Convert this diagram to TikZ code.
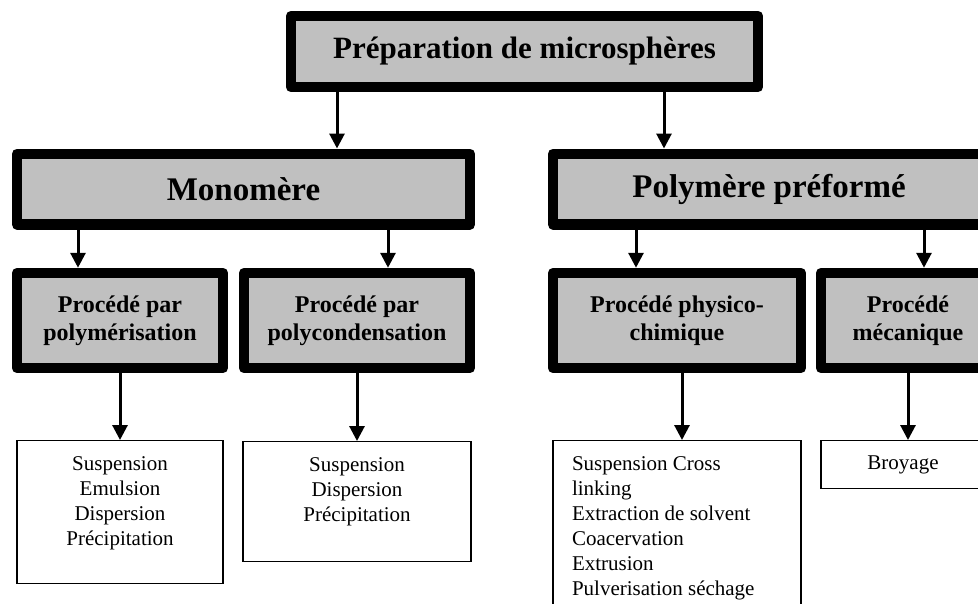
\documentclass[tikz,border=0pt]{standalone}
\usepackage{fontspec}
\setmainfont{Liberation Serif}
\usetikzlibrary{positioning, arrows.meta}
\definecolor{boxgray}{HTML}{C0C0C0}

\begin{document}
\begin{tikzpicture}[x = 1pt, y = -1pt,
    thickbox/.style = {rectangle, draw, fill = boxgray, line width = 10.5pt, line join = round, inner sep = 0pt, align = center},
    listbox/.style = {rectangle, draw, line width = 1.3pt, inner sep = 0pt, font = \fontsize{21}{25}\selectfont},
    arr/.style = {-{Triangle[width = 15pt, length = 15pt]}, line width = 3pt}]

\useasboundingbox (0, 0) rectangle (978, 603);
\clip (0, 0) rectangle (978, 603);

\node[thickbox, minimum width = 467, minimum height = 71, font = \bfseries\fontsize{31}{36}\selectfont] (prep) at (524.5, 51.5) {Préparation de microsphères};

\node[thickbox, minimum width = 453, minimum height = 70.5, font = \bfseries\fontsize{33}{38}\selectfont] (mono) at (243.5, 189) {Monomère};
\node[thickbox, minimum width = 432, minimum height = 70.5, font = \bfseries\fontsize{33}{38}\selectfont] (poly) at (769, 189) {Polymère préformé};
    \draw [arr] ([xshift = 93.5pt]mono.north |- prep.south) -- ([xshift = 93.5pt]mono.north);
    \draw [arr] ([xshift = -105pt]poly.north |- prep.south) -- ([xshift = -105pt]poly.north);

\node[thickbox, minimum width = 206, minimum height = 95, font = \bfseries\fontsize{24}{28}\selectfont] (polym) at (120, 320.5) {Procédé par\\polymérisation};
\node[thickbox, minimum width = 226, minimum height = 95, font = \bfseries\fontsize{24}{28}\selectfont] (polyc) at (357, 320.5) {Procédé par\\polycondensation};
\node[thickbox, minimum width = 248, minimum height = 95, font = \bfseries\fontsize{24}{28}\selectfont] (physico) at (677, 320.5) {Procédé physico-\\chimique};
\node[thickbox, minimum width = 174, minimum height = 95, font = \bfseries\fontsize{24}{28}\selectfont] (meca) at (908, 320.5) {Procédé\\mécanique};
    \draw [arr] ([xshift = -42pt]polym.north |- mono.south) -- ([xshift = -42pt]polym.north);
    \draw [arr] ([xshift = 31pt]polyc.north |- mono.south) -- ([xshift = 31pt]polyc.north);
    \draw [arr] ([xshift = -41pt]physico.north |- poly.south) -- ([xshift = -41pt]physico.north);
    \draw [arr] ([xshift = 16pt]meca.north |- poly.south) -- ([xshift = 16pt]meca.north);

\node[listbox, anchor = north] (lst1) at (120, 440) {\begin{minipage}[t][143pt][t]{206pt}\centering\rule{0pt}{30pt}Suspension\\Emulsion\\Dispersion\\Précipitation\end{minipage}};
\node[listbox, anchor = north] (lst2) at (357, 441) {\begin{minipage}[t][120pt][t]{228pt}\centering\rule{0pt}{30pt}Suspension\\Dispersion\\Précipitation\end{minipage}};
\node[listbox, anchor = north] (lst3) at (677, 440) {\begin{minipage}[t][185pt][t]{248pt}\raggedright\leftskip = 19pt\rule{0pt}{30pt}Suspension Cross\\linking\\Extraction de solvent\\Coacervation\\Extrusion\\Pulverisation séchage\end{minipage}};
\node[listbox, anchor = north, minimum width = 164, minimum height = 48] (broy) at (903, 440) {Broyage};
    \draw [arr] (polym.south) -- (lst1.north);
    \draw [arr] (polyc.south) -- (lst2.north);
    \draw [arr] ([xshift = 5pt]physico.south) -- ([xshift = 5pt]physico.south |- lst3.north);
    \draw [arr] (meca.south) -- (meca.south |- broy.north);
\end{tikzpicture}
\end{document}
